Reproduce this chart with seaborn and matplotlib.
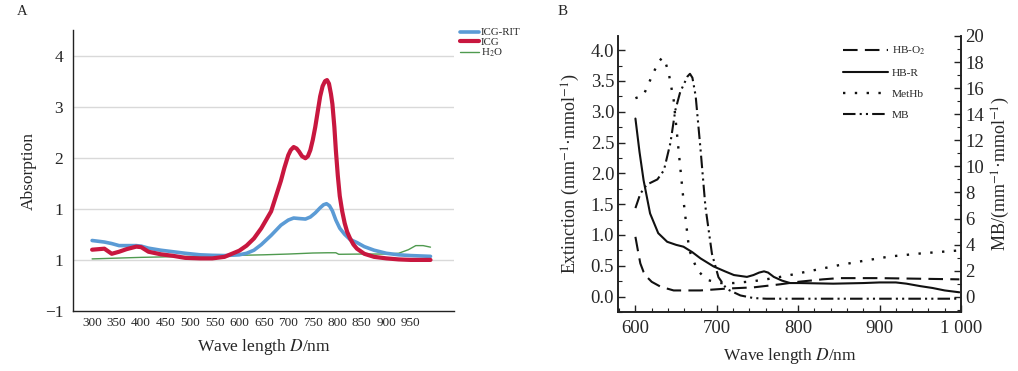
import numpy as np
import pandas as pd
import seaborn as sns
import matplotlib.pyplot as plt
from matplotlib.ticker import MultipleLocator

# Panel A data (absorption spectra)
wl_rit = [300, 325, 340, 355, 370, 390, 400, 415, 440, 465, 490, 520, 545, 570, 600, 615, 630, 645,
          665, 685, 700, 711, 722, 735, 745, 755, 765, 772, 778, 784, 790, 797, 805, 815, 826, 840,
          855, 875, 900, 925, 950, 990]
icg_rit = [0.38, 0.35, 0.32, 0.28, 0.28, 0.28, 0.27, 0.23, 0.19, 0.16, 0.13, 0.10, 0.09, 0.085, 0.10, 0.13, 0.19, 0.30,
           0.48, 0.68, 0.78, 0.82, 0.81, 0.80, 0.84, 0.92, 1.02, 1.08, 1.10, 1.06, 0.96, 0.78, 0.62, 0.50, 0.40, 0.34,
           0.26, 0.19, 0.13, 0.10, 0.085, 0.07]
wl_icg = [300, 325, 340, 355, 370, 390, 400, 415, 440, 465, 490, 520, 545, 570, 600, 615, 630, 645, 665,
          685, 692, 700, 705, 711, 717, 722, 728, 735, 740, 745, 750, 755, 760, 765, 770, 775, 779, 783,
          787, 790, 794, 797, 801, 805, 810, 815, 820, 826, 833, 840, 855, 875, 900, 925, 950, 990]
icg = [0.20, 0.22, 0.12, 0.16, 0.21, 0.26, 0.25, 0.16, 0.11, 0.08, 0.04, 0.03, 0.03, 0.06, 0.18, 0.28, 0.42, 0.62, 0.95,
       1.55, 1.80, 2.05, 2.15, 2.21, 2.18, 2.12, 2.03, 1.99, 2.03, 2.15, 2.35, 2.60, 2.90, 3.20, 3.40, 3.50, 3.52, 3.45,
       3.25, 3.05, 2.60, 2.15, 1.65, 1.25, 0.95, 0.72, 0.55, 0.42, 0.30, 0.22, 0.12, 0.06, 0.03, 0.01, 0.0, 0.0]
wl_h2o = [300, 350, 400, 450, 500, 550, 600, 650, 700, 750, 780, 797, 803, 850, 900, 925, 945, 960, 975, 990]
h2o = [0.02, 0.035, 0.05, 0.06, 0.07, 0.08, 0.09, 0.10, 0.115, 0.135, 0.14, 0.14, 0.11, 0.115, 0.115, 0.13, 0.20,
       0.28, 0.28, 0.25]
a_xticks = [300, 350, 400, 450, 500, 550, 600, 650, 700, 750, 800, 850, 900, 950]
a_yticks = [-1, 0, 1, 2, 3, 4]
a_yticklabels = ['\u22121', '1', '1', '2', '3', '4']

# Panel B data (extinction spectra)
hbo2_wl = [600, 603, 606, 610, 614, 620, 631, 647, 680, 712, 745, 778, 800, 830, 850, 900, 950, 998]
hbo2 = [0.97, 0.75, 0.54, 0.40, 0.32, 0.24, 0.16, 0.10, 0.10, 0.13, 0.15, 0.20, 0.24, 0.28, 0.30, 0.30, 0.29, 0.28]
hbr_wl = [600, 605, 610, 618, 628, 639, 650, 659, 670, 680, 696, 710, 721, 737, 745, 752, 758, 763,
          770, 780, 790, 802, 843, 880, 900, 920, 933, 950, 965, 980, 998]
hbr = [2.89, 2.35, 1.89, 1.35, 1.03, 0.89, 0.84, 0.81, 0.72, 0.62, 0.49, 0.41, 0.35, 0.32, 0.35, 0.39, 0.41, 0.39,
       0.32, 0.26, 0.22, 0.22, 0.21, 0.22, 0.23, 0.23, 0.21, 0.17, 0.14, 0.10, 0.07]
methb_wl = [600, 610, 620, 628, 633, 637, 641, 647, 653, 659, 666, 676, 688, 705, 721, 745, 770, 790, 820, 850,
            880, 912, 950, 998]
methb = [3.22, 3.27, 3.57, 3.80, 3.88, 3.80, 3.62, 3.19, 2.38, 1.57, 0.76, 0.43, 0.27, 0.22, 0.22, 0.25, 0.30, 0.35,
         0.43, 0.51, 0.58, 0.65, 0.70, 0.75]
mb_wl = [600, 606, 614, 627, 635, 643, 649, 655, 661, 664, 667, 670, 674, 680, 686, 694, 702, 712, 729, 745, 761,
         800, 900, 998]
mb = [6.8, 7.9, 8.6, 9.0, 9.7, 11.8, 14.3, 15.7, 16.5, 16.9, 17.1, 16.8, 15.4, 11.3, 6.9, 3.3, 1.5, 0.6, 0.1, -0.1,
      -0.15, -0.15, -0.15, -0.15]
b_xticks = [600, 700, 800, 900, 1000]
b_xticklabels = ['600', '700', '800', '900', '1 000']

sns.set_style("ticks")
plt.rcParams['font.family'] = ['Liberation Serif', 'DejaVu Serif']
plt.rcParams['mathtext.fontset'] = 'stix'

fig = plt.figure(figsize=(10.18, 3.71), dpi=100)
ax_a = fig.add_axes([0.0717, 0.1617, 0.3743, 0.7574])
ax_b = fig.add_axes([0.6074, 0.159, 0.3366, 0.744])

#%% Panel A
for y in a_yticks[1:]:
    ax_a.axhline(y, color='#d9d9d9', lw=1, zorder=0)
sns.lineplot(x=wl_h2o, y=h2o, ax=ax_a, color='#4f9a4f', lw=1.0, label='H$_2$O')
sns.lineplot(x=wl_rit, y=icg_rit, ax=ax_a, color='#5b9bd5', lw=2.6, label='ICG-RIT')
sns.lineplot(x=wl_icg, y=icg, ax=ax_a, color='#c8173f', lw=3.0, label='ICG')
ax_a.set_xlim(261, 1038)
ax_a.set_ylim(-1, 4.5)
ax_a.set_xticks(a_xticks)
ax_a.set_xticklabels([str(v) for v in a_xticks], fontsize=9.5)
ax_a.set_yticks(a_yticks)
ax_a.set_yticklabels(a_yticklabels, fontsize=12.5)
ax_a.tick_params(axis='both', length=0)
ax_a.tick_params(axis='x', pad=4)
ax_a.tick_params(axis='y', pad=7)
for s in ['top', 'right']:
    ax_a.spines[s].set_visible(False)
for s in ['left', 'bottom']:
    ax_a.spines[s].set_color('#222222')
    ax_a.spines[s].set_linewidth(1.0)
ax_a.set_xlabel('Wave length $D$/nm', fontsize=12.5, labelpad=6)
ax_a.set_ylabel('Absorption', fontsize=12.5, labelpad=6)
h, l = ax_a.get_legend_handles_labels()
order = [1, 2, 0]
ax_a.legend([h[i] for i in order], [l[i] for i in order], loc='upper left',
            bbox_to_anchor=(0.452, 0.925), bbox_transform=fig.transFigure,
            frameon=False, fontsize=7.8, handlelength=1.7, handletextpad=0.2,
            labelspacing=0.0, borderpad=0, borderaxespad=0)

#%% Panel B
lc = '#111111'
sns.lineplot(x=hbo2_wl, y=hbo2, ax=ax_b, color=lc, lw=1.5, linestyle=(0, (7, 3.5)), label='HB-O$_2$')
sns.lineplot(x=hbr_wl, y=hbr, ax=ax_b, color=lc, lw=1.5, label='HB-R')
sns.lineplot(x=methb_wl, y=methb, ax=ax_b, color=lc, lw=1.7, linestyle=(0, (1, 4)), label='MetHb')
ax_b2 = ax_b.twinx()
sns.lineplot(x=mb_wl, y=mb, ax=ax_b2, color=lc, lw=1.5, linestyle=(0, (6, 2, 1, 2, 1, 2)), label='MB')
if ax_b2.get_legend() is not None:
    ax_b2.get_legend().remove()

ax_b.set_xlim(579, 1000)
ax_b.set_ylim(-0.25, 4.23)
ax_b2.set_ylim(-1.17, 20)
ax_b.set_xticks(b_xticks)
ax_b.set_xticklabels(b_xticklabels, fontsize=13.5)
ax_b.xaxis.set_minor_locator(MultipleLocator(20))
ax_b.set_yticks(np.arange(0, 4.01, 0.5))
ax_b.set_yticklabels(['%.1f' % v for v in np.arange(0, 4.01, 0.5)], fontsize=13.5)
ax_b.yaxis.set_minor_locator(MultipleLocator(0.25))
ax_b2.set_yticks(np.arange(0, 21, 2))
ax_b2.set_yticklabels([str(v) for v in range(0, 21, 2)], fontsize=13.5)
ax_b2.yaxis.set_minor_locator(MultipleLocator(1))
for ax in (ax_b, ax_b2):
    ax.tick_params(which='major', direction='in', length=5, width=1, color='#222222', pad=3)
    ax.tick_params(which='minor', direction='in', length=3, width=0.8, color='#222222')
    ax.spines['top'].set_visible(False)
    for s in ['left', 'right', 'bottom']:
        ax.spines[s].set_color('#222222')
        ax.spines[s].set_linewidth(1.2)
ax_b.tick_params(axis='x', pad=6)
ax_b.set_xlabel('Wave length $D$/nm', fontsize=12.5, labelpad=6)
ax_b.set_ylabel('Extinction (mm$^{-1}$\u00b7mmol$^{-1}$)', fontsize=13, labelpad=6)
ax_b2.set_ylabel('MB/(mm$^{-1}$\u00b7mmol$^{-1}$)', fontsize=13, labelpad=4)

h1, l1 = ax_b.get_legend_handles_labels()
h2, l2 = ax_b2.get_legend_handles_labels()
ax_b.legend(h1 + h2, l1 + l2, loc='upper left', bbox_to_anchor=(0.828, 0.879),
            bbox_transform=fig.transFigure, frameon=False, fontsize=8.2,
            handlelength=4.0, handletextpad=0.3, labelspacing=0.95, borderpad=0, borderaxespad=0)

fig.text(0.0216, 0.968, 'A', fontsize=10.5, va='center', ha='center')
fig.text(0.553, 0.968, 'B', fontsize=11, va='center', ha='center')

fig.savefig('out.png', dpi=100)
